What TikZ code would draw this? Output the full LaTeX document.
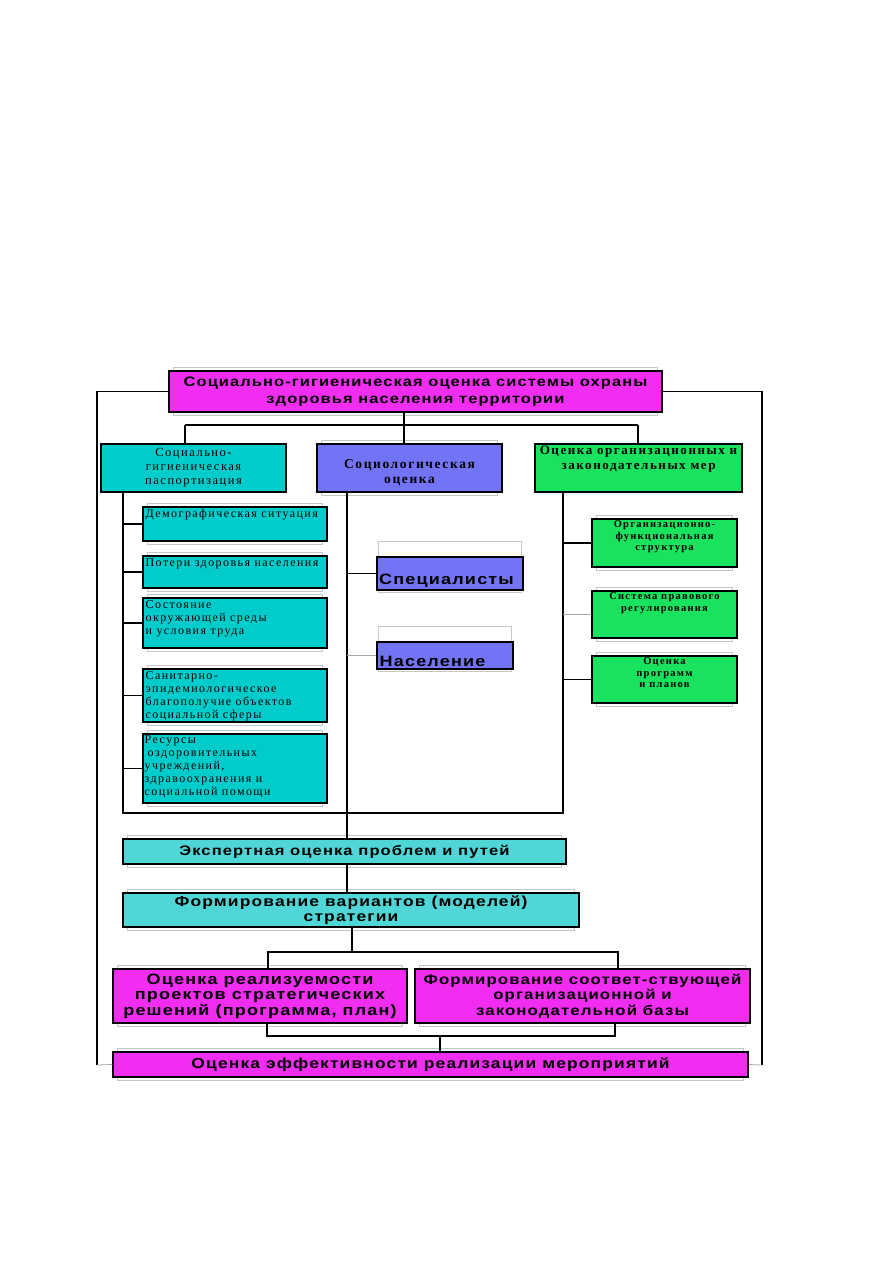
\documentclass[tikz,border=0pt]{standalone}
\usepackage{fontspec}
\setmainfont[LetterSpace=12]{Liberation Serif}
\setsansfont[LetterSpace=8,FakeStretch=1.2]{Liberation Sans}
\usetikzlibrary{backgrounds}

\definecolor{magbox}{RGB}{240,45,240}
\definecolor{bluebox}{RGB}{115,115,245}
\definecolor{cyanbox}{RGB}{0,204,204}
\definecolor{cyandot}{RGB}{80,214,214}
\definecolor{greenbox}{RGB}{25,226,95}

\begin{document}
\begin{tikzpicture}[x=1pt,y=-1pt,
		box/.style={draw, line width=1.1pt, inner sep=2pt, align=center},
		sbox/.style={box, fill=cyanbox, minimum width=184pt},
		gbox/.style={box, fill=greenbox, minimum width=145pt},
		ltext/.style={anchor=north west, align=left, inner sep=3pt, font=\fontsize{12}{13}\selectfont},
		gtext/.style={anchor=north, align=center, inner sep=2pt, font=\bfseries\fontsize{10.5}{11.5}\selectfont},
		hd/.style={font=\sffamily\bfseries\fontsize{13.7}{16.5}\selectfont},
		hdbig/.style={font=\sffamily\bfseries\fontsize{15}{15.5}\selectfont},
		hdsmall/.style={font=\sffamily\bfseries\fontsize{14}{15}\selectfont},
		conn/.style={line width=1.8pt},
		trunk/.style={line width=1.1pt},
		light/.style={line width=0.8pt, gray!70},
		ghost/.style={draw=gray!45, line width=0.8pt}]
	\useasboundingbox (0,0) rectangle (893,1263);
	
	% Головной блок
	\node[box, fill=magbox, hd, minimum width=493pt, minimum height=41pt] (top) at (415.5,391.5)
	{Социально-гигиеническая оценка системы охраны\\здоровья населения территории};
	
	% Второй уровень
	\node[box, fill=cyanbox, minimum width=185pt, minimum height=48pt,
	font=\fontsize{12.5}{14}\selectfont] (pasp) at (193.5,468) {Социально-\\гигиеническая\\паспортизация};
	\node[box, fill=bluebox, minimum width=185pt, minimum height=48pt,
	label={[anchor=center, yshift=-5pt, align=center, font=\bfseries\fontsize{13.5}{15}\selectfont]center:Социологическая\\оценка}] (socio) at (409.5,468) {};
	\node[box, fill=greenbox, minimum width=207pt, minimum height=48pt,
	label={[gtext, font=\bfseries\fontsize{13}{15}\selectfont]north:Оценка организационных и\\законодательных мер}] (org) at (638.5,468) {};
	
	% Паспортизация: составляющие
	\node[sbox, minimum height=34pt, label={[ltext]north west:Демографическая ситуация}] (d1) at (235,524) {};
	\node[sbox, minimum height=32pt, label={[ltext]north west:Потери здоровья населения}] (d2) at (235,572) {};
	\node[sbox, minimum height=50pt, label={[ltext]north west:Состояние\\окружающей среды\\и условия труда}] (d3) at (235,623) {};
	\node[sbox, minimum height=53pt, label={[ltext]north west:Санитарно-\\эпидемиологическое\\благополучие объектов\\социальной сферы}] (d4) at (235,695.5) {};
	\node[sbox, minimum height=69pt, label={[ltext, inner sep=2pt]north west:{Ресурсы\\\hspace*{3pt}оздоровительных\\учреждений,\\здравоохранения и\\социальной помощи}}] (d5) at (235,768.5) {};
	
	% Социологическая оценка: группы
	\node[box, fill=bluebox, minimum width=146pt, minimum height=33pt,
	label={[anchor=south west, inner sep=2.5pt, hdbig]south west:Специалисты}] (spec) at (450,573.5) {};
	\node[box, fill=bluebox, minimum width=136pt, minimum height=27pt,
	label={[anchor=south west, inner sep=3pt, hdbig]south west:Население}] (nas) at (445,655.5) {};
	
	% Организационные и законодательные меры
	\node[gbox, minimum height=48pt, label={[gtext]north:Организационно-\\функциональная\\структура}] (g1) at (664.5,543) {};
	\node[gbox, minimum height=47pt, label={[gtext]north:Система правового\\регулирования}] (g2) at (664.5,614.5) {};
	\node[gbox, minimum height=47pt, label={[gtext]north:Оценка\\программ\\и планов}] (g3) at (664.5,679.5) {};
	
	% Нижние блоки
	\node[box, fill=cyandot, hdsmall, minimum width=443pt, minimum height=25pt, font=\sffamily\bfseries\fontsize{13.8}{15}\selectfont] (exp) at (344.5,851.5)
	{Экспертная оценка проблем и путей};
	\node[box, fill=cyandot, hdsmall, minimum width=456pt, minimum height=34pt, font=\sffamily\bfseries\fontsize{14.5}{15}\selectfont] (form) at (351,910)
	{Формирование вариантов (моделей)\\стратегии};
	\node[box, fill=magbox, hdbig, minimum width=294pt, minimum height=54pt] (rA) at (260,996)
	{Оценка реализуемости\\проектов стратегических\\решений (программа, план)};
	\node[box, fill=magbox, hdbig, minimum width=335pt, minimum height=54pt, font=\sffamily\bfseries\fontsize{14}{15.5}\selectfont] (rB) at (582.5,996)
	{Формирование соответ-ствующей\\организационной и\\законодательной базы};
	\node[box, fill=magbox, hd, minimum width=635pt, minimum height=25pt, font=\sffamily\bfseries\fontsize{14.5}{15}\selectfont] (fin) at (430.5,1064.5)
	{Оценка эффективности реализации мероприятий};
	
	% Тени блоков
	\begin{scope}[on background layer]
		\foreach \n in {top,socio,d1,d2,d3,d4,d5,g1,g2,g3,exp,form,rA,rB,fin}
		\draw[ghost] ([xshift=5pt,yshift=3pt]\n.north west) rectangle ([xshift=-5pt,yshift=-3pt]\n.south east);
		\foreach \n in {spec,nas}
		\draw[ghost] ([xshift=2pt,yshift=15pt]\n.north west) rectangle ([xshift=-2pt,yshift=-2pt]\n.south east);
	\end{scope}
	
	% Рамка
	\coordinate (frL) at (97,1065);
	\coordinate (frR) at (762,1065);
	\draw[conn] (frL) |- (top.west);
	\draw[conn] (frR) |- (top.east);
	\draw[light] (frL) -- (fin.west);
	\draw[light] (frR) -- (fin.east);
	
	% Шина верхнего уровня
	\coordinate (busL) at (185,425);
	\coordinate (busC) at (404,425);
	\coordinate (busR) at (638,425);
	\draw[conn] (busL) -- (busR);
	\draw[conn] (busL) -- (busL |- pasp.north);
	\draw[conn] (busC |- top.south) -- (busC |- socio.north);
	\draw[trunk] (busR) -- (busR |- org.north);
	
	% Стволы
	\coordinate (trL) at (123,813);
	\coordinate (trM) at (347,813);
	\coordinate (trR) at (563,813);
	\draw[trunk] (trL |- pasp.south) -- (trL) -- (trR) -- (trR |- org.south);
	\draw[trunk] (trM |- socio.south) -- (trM |- exp.north);
	\draw[trunk] (trM |- exp.south) -- (trM |- form.north);
	
	% Отводы к блокам
	\foreach \n/\s in {d1/trunk,d2/conn,d3/conn,d4/conn,d5/trunk}
	\draw[\s] (trL |- \n.west) -- (\n.west);
	\foreach \n/\s in {spec/conn,nas/light}
	\draw[\s] (trM |- \n.west) -- (\n.west);
	\foreach \n/\s in {g1/conn,g2/light,g3/conn}
	\draw[\s] (trR |- \n.west) -- (\n.west);
	
	% Ветвление стратегии
	\coordinate (lowL) at (268,952);
	\coordinate (lowC) at (352,952);
	\coordinate (lowR) at (618,952);
	\draw[trunk] (lowC |- form.south) -- (lowC);
	\draw[trunk] (lowL |- rA.north) -- (lowL) -- (lowR) -- (lowR |- rB.north);
	\coordinate (botL) at (267,1036);
	\coordinate (botC) at (440,1036);
	\coordinate (botR) at (615,1036);
	\draw[conn] (botL |- rA.south) -- (botL) -- (botR) -- (botR |- rB.south);
	\draw[conn] (botC) -- (botC |- fin.north);
	
\end{tikzpicture}
\end{document}
